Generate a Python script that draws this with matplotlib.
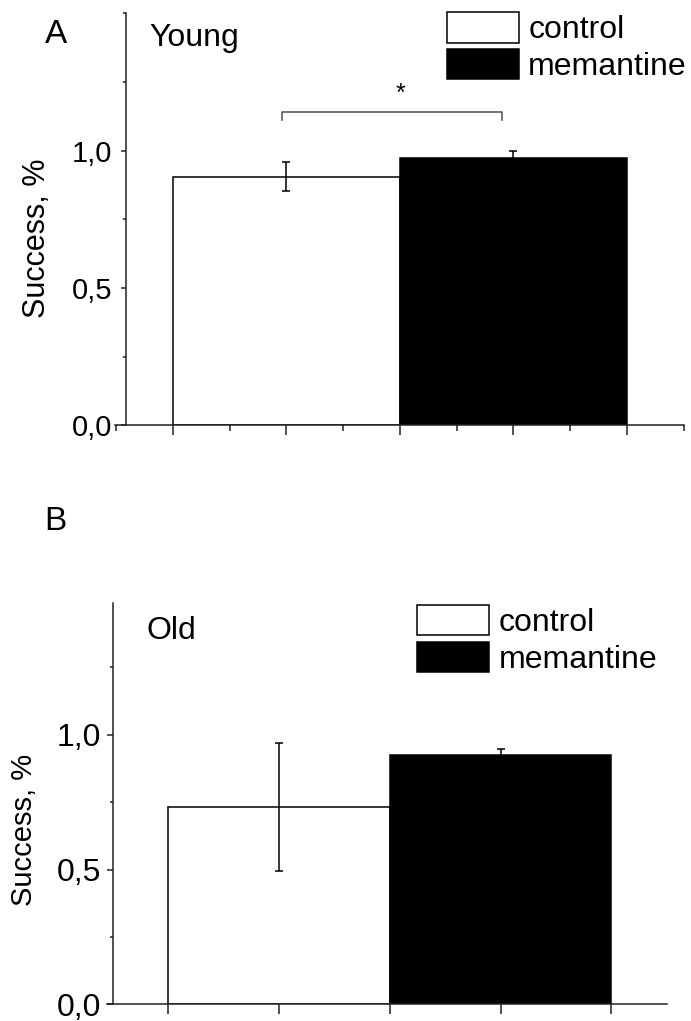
import numpy as np
import matplotlib
matplotlib.use('Agg')
import matplotlib.pyplot as plt
from matplotlib.patches import Patch
from matplotlib.ticker import FuncFormatter, MultipleLocator

plt.rcParams['font.family'] = ['Liberation Sans', 'DejaVu Sans']

# Data
groups = ['control', 'memantine']
young_mean = [0.905, 0.972]
young_err = [0.053, 0.028]
old_mean = [0.733, 0.925]
old_err = [0.237, 0.021]
# significance bracket (young): from control to memantine
sig_x = [1.96, 1.96, 3.9, 3.9]
sig_y = [1.112, 1.143, 1.143, 1.112]
sig_star = (3.0, 1.18)

W, H = 691, 1021
fig = plt.figure(figsize=(W / 100, H / 100), dpi=100)

def px(x, y):
    # figure pixel -> figure fraction
    return x / W, 1 - y / H

comma = FuncFormatter(lambda v, p: f'{v:.1f}'.replace('.', ','))
x = 2 + 2 * np.arange(len(groups))


def panel(rect, means, errs, xmin, yspine, ytop, tick_fs, pad, minor_x, ytl):
    ax = fig.add_axes(rect)
    ax.bar(x, means, width=2, color=['white', 'black'], edgecolor='black', linewidth=1.1, zorder=2)
    ax.errorbar(x, means, yerr=errs, fmt='none', ecolor='black', elinewidth=1.1,
                capsize=3, capthick=1.1, zorder=3)
    ax.set_xlim(xmin, 5.5)
    ax.set_ylim(0, ytop)
    for s in ['top', 'right']:
        ax.spines[s].set_visible(False)
    ax.spines['left'].set_position(('data', yspine))
    for s in ['left', 'bottom']:
        ax.spines[s].set_linewidth(1.1)
        ax.spines[s].set_color('#222222')
    ax.set_yticks([0, 0.5, 1.0])
    ax.yaxis.set_minor_locator(MultipleLocator(0.25))
    ax.yaxis.set_major_formatter(comma)
    ax.tick_params(axis='y', which='major', length=ytl, width=1.1, pad=pad,
                   labelsize=tick_fs, color='#222222')
    ax.tick_params(axis='y', which='minor', length=2.2, width=1.1, color='#222222')
    ax.set_xticks([1, 2, 3, 4, 5])
    ax.set_xticklabels([])
    if minor_x:
        ax.set_xticks(np.arange(0.5, 5.6, 1.0), minor=True)
    ax.tick_params(axis='x', which='major', length=7.2, width=1.1, color='#222222')
    ax.tick_params(axis='x', which='minor', length=4.6, width=1.1, color='#222222')
    ax.patch.set_visible(False)
    return ax


# Panel A - young
axA = panel([115.1 / W, 1 - 425.5 / H, 568.65 / W, 412.05 / H],
            young_mean, young_err, 0.49, 0.59, 1.5, 21, 6.5, True, 3.8)
axA.plot(sig_x, sig_y, color='#5a5a5a', linewidth=1.2)
axA.text(sig_star[0], sig_star[1], '*', fontsize=18, ha='center', va='baseline')

# Panel B - old
axB = panel([106.5 / W, 1 - 1004.3 / H, 560.15 / W, 401.6 / H],
            old_mean, old_err, 0.44, 0.5, 1.49, 23, 4.2, False, 4.5)

handles = [Patch(facecolor='white', edgecolor='black', linewidth=1.1),
           Patch(facecolor='black', edgecolor='black', linewidth=1.1)]
for ax, (lx, ly) in [(axA, (446.7, 12.3)), (axB, (417.3, 605))]:
    ax.legend(handles, groups, loc='upper left', bbox_to_anchor=px(lx, ly),
              bbox_transform=fig.transFigure, frameon=False, fontsize=23,
              handlelength=2.25, handleheight=1.08, handletextpad=0.3,
              labelspacing=0.12, borderpad=0, borderaxespad=0)

fig.text(*px(45, 43), 'A', fontsize=24, ha='left', va='baseline')
fig.text(*px(149, 46), 'Young', fontsize=23, ha='left', va='baseline')
fig.text(*px(44.5, 530), 'B', fontsize=24, ha='left', va='baseline')
fig.text(*px(146.5, 639), 'Old', fontsize=23, ha='left', va='baseline')
fig.text(*px(37, 238), 'Success, %', fontsize=22, rotation=90, ha='center', va='center')
fig.text(*px(24, 830), 'Success, %', fontsize=21, rotation=90, ha='center', va='center')

fig.savefig('out.png', dpi=100)
